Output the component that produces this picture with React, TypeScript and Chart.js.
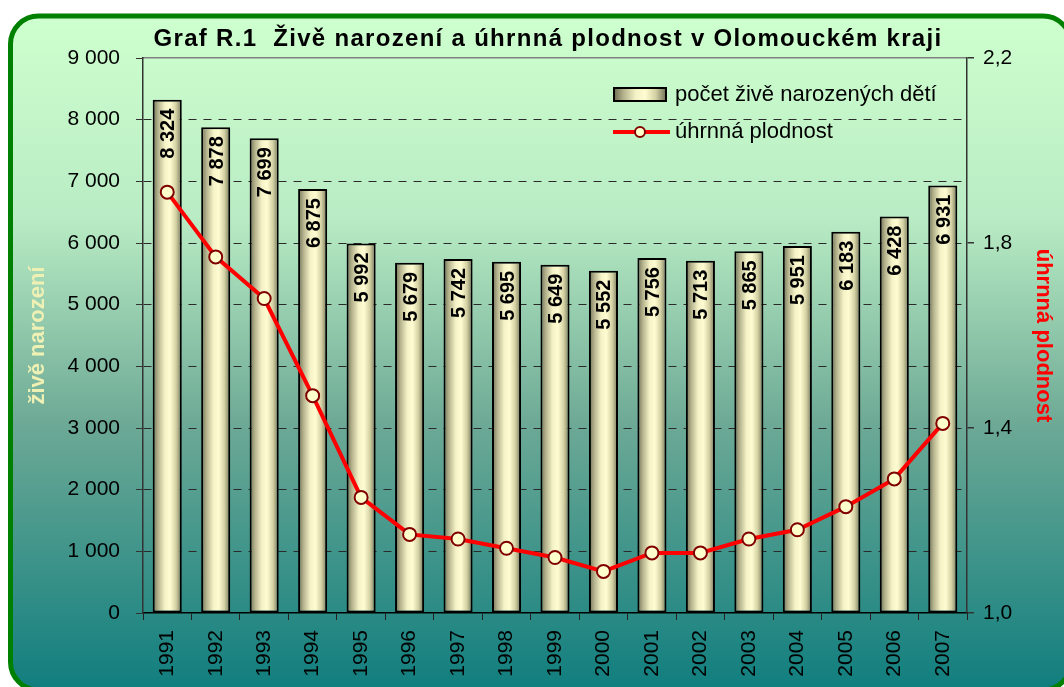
import React, { useEffect, useRef } from 'react';
import { Chart, registerables } from 'chart.js';

Chart.register(...registerables);

const years = ['1991', '1992', '1993', '1994', '1995', '1996', '1997', '1998', '1999', '2000', '2001', '2002', '2003', '2004', '2005', '2006', '2007'];
const births = [8324, 7878, 7699, 6875, 5992, 5679, 5742, 5695, 5649, 5552, 5756, 5713, 5865, 5951, 6183, 6428, 6931];
const fertility = [1.91, 1.77, 1.68, 1.47, 1.25, 1.17, 1.16, 1.14, 1.12, 1.09, 1.13, 1.13, 1.16, 1.18, 1.23, 1.29, 1.41];

const titleText = 'Graf R.1  Živě narození a úhrnná plodnost v Olomouckém kraji';
const birthsLabel = 'počet živě narozených dětí';
const fertilityLabel = 'úhrnná plodnost';
const leftAxisTitle = 'živě narození';
const rightAxisTitle = 'úhrnná plodnost';

const FONT = "'Liberation Sans', Arial, sans-serif";
const BAR_PCT = 0.6;

const fmtThousands = (n: number) => String(Math.round(n)).replace(/\B(?=(\d{3})+(?!\d))/g, ' ');
const fmtComma = (n: number) => n.toFixed(1).replace('.', ',');

function barGradient(ctx: CanvasRenderingContext2D, x0: number, x1: number) {
  const g = ctx.createLinearGradient(x0, 0, x1, 0);
  g.addColorStop(0, '#6c6c52');
  g.addColorStop(0.18, '#b4b28c');
  g.addColorStop(0.42, '#f4f2c6');
  g.addColorStop(0.6, '#fffcd2');
  g.addColorStop(0.8, '#d4d2a4');
  g.addColorStop(1, '#727258');
  return g;
}

const backgroundPlugin = {
  id: 'bgPanel',
  beforeDraw(chart: any) {
    const { ctx } = chart;
    const x = 10.5, y = 16, w = 1071 - 10.5, h = 690 - 16, r = 28;
    ctx.save();
    const g = ctx.createLinearGradient(0, y, 0, y + h);
    g.addColorStop(0, 'rgb(206,255,206)');
    g.addColorStop(0.3, 'rgb(185,236,196)');
    g.addColorStop(0.6, 'rgb(110,170,150)');
    g.addColorStop(1, 'rgb(16,126,126)');
    ctx.beginPath();
    ctx.moveTo(x + r, y);
    ctx.lineTo(x + w - r, y);
    ctx.arcTo(x + w, y, x + w, y + r, r);
    ctx.lineTo(x + w, y + h - r);
    ctx.arcTo(x + w, y + h, x + w - r, y + h, r);
    ctx.lineTo(x + r, y + h);
    ctx.arcTo(x, y + h, x, y + h - r, r);
    ctx.lineTo(x, y + r);
    ctx.arcTo(x, y, x + r, y, r);
    ctx.closePath();
    ctx.fillStyle = g;
    ctx.fill();
    ctx.lineWidth = 5;
    ctx.strokeStyle = '#008000';
    ctx.stroke();

    ctx.fillStyle = '#000';
    ctx.font = `bold 24px ${FONT}`;
    try { (ctx as any).letterSpacing = '1.3px'; } catch (e) {}
    ctx.textAlign = 'center';
    ctx.textBaseline = 'middle';
    ctx.fillText(titleText, 548, 39);
    ctx.restore();
  },
};

const barLabelPlugin = {
  id: 'barLabels',
  afterDatasetDraw(chart: any, args: any) {
    if (args.meta.type !== 'bar') return;
    const { ctx } = chart;
    ctx.save();
    ctx.fillStyle = '#000';
    ctx.font = `bold 20px ${FONT}`;
    ctx.textAlign = 'right';
    ctx.textBaseline = 'middle';
    args.meta.data.forEach((el: any, i: number) => {
      const { x, y } = el.getProps(['x', 'y'], true);
      ctx.save();
      ctx.translate(x + 1.5, y + 9);
      ctx.rotate(-Math.PI / 2);
      ctx.fillText(fmtThousands(births[i]), 0, 0);
      ctx.restore();
    });
    ctx.restore();
  },
};

const legendPlugin = {
  id: 'customLegend',
  afterDraw(chart: any) {
    const { ctx } = chart;
    ctx.save();
    const sx = 614, sy = 88, sw = 52, sh = 13;
    ctx.fillStyle = barGradient(ctx, sx, sx + sw);
    ctx.fillRect(sx, sy, sw, sh);
    ctx.lineWidth = 2;
    ctx.strokeStyle = '#000';
    ctx.strokeRect(sx, sy, sw, sh);
    ctx.beginPath();
    ctx.moveTo(613, 132);
    ctx.lineTo(670, 132);
    ctx.lineWidth = 4;
    ctx.strokeStyle = '#ff0000';
    ctx.stroke();
    ctx.beginPath();
    ctx.arc(640, 132, 5, 0, Math.PI * 2);
    ctx.fillStyle = '#ffffcc';
    ctx.fill();
    ctx.lineWidth = 2;
    ctx.strokeStyle = '#800000';
    ctx.stroke();
    ctx.fillStyle = '#000';
    ctx.font = `22px ${FONT}`;
    ctx.textAlign = 'left';
    ctx.textBaseline = 'middle';
    ctx.fillText(birthsLabel, 675, 95);
    ctx.fillText(fertilityLabel, 675, 132);
    ctx.restore();
  },
};

export default function App() {
  const ref = useRef<HTMLCanvasElement | null>(null);
  useEffect(() => {
    if (!ref.current) return;
    const chart = new Chart(ref.current, {
      type: 'bar',
      data: {
        labels: years,
        datasets: [
          {
            type: 'line',
            label: fertilityLabel,
            data: fertility,
            yAxisID: 'yR',
            order: 0,
            borderColor: '#ff0000',
            borderWidth: 4,
            pointRadius: 6.5,
            pointBackgroundColor: '#ffffcc',
            pointBorderColor: '#800000',
            pointBorderWidth: 2,
            tension: 0,
          } as any,
          {
            type: 'bar',
            label: birthsLabel,
            data: births,
            yAxisID: 'yL',
            order: 1,
            barPercentage: BAR_PCT,
            categoryPercentage: 1,
            borderColor: '#000',
            borderWidth: 2,
            borderSkipped: false,
            backgroundColor: (c: any) => {
              const chartRef = c.chart;
              const xs = chartRef.scales && chartRef.scales.x;
              if (!xs || c.dataIndex === undefined || !xs.width) return '#eeeabb';
              const cx = xs.getPixelForValue(c.dataIndex);
              const w = (xs.width / years.length) * BAR_PCT;
              if (!isFinite(cx)) return '#eeeabb';
              return barGradient(chartRef.ctx, cx - w / 2, cx + w / 2);
            },
          },
        ],
      },
      options: {
        responsive: false,
        animation: false,
        layout: { padding: { top: 58, left: 0, right: 0, bottom: 0 } },
        plugins: {
          legend: { display: false },
          title: { display: false },
          tooltip: { enabled: false },
        },
        scales: {
          x: {
            type: 'category',
            offset: true,
            grid: {
              offset: true,
              drawOnChartArea: false,
              drawTicks: true,
              tickLength: 7,
              tickColor: '#222',
              color: '#222',
            },
            border: { color: '#000', width: 1.5 },
            ticks: {
              minRotation: 90,
              maxRotation: 90,
              autoSkip: false,
              padding: 10,
              color: '#000',
              font: { family: FONT, size: 21 },
            },
            afterFit: (s: any) => { s.height = 74; },
          },
          yL: {
            type: 'linear',
            position: 'left',
            min: 0,
            max: 9000,
            ticks: {
              stepSize: 1000,
              padding: 16,
              color: '#000',
              font: { family: FONT, size: 21 },
              callback: (v: any) => fmtThousands(Number(v)),
            },
            grid: {
              color: (c: any) => (c.tick && (c.tick.value === 0 || c.tick.value === 9000) ? 'rgba(0,0,0,0)' : '#2a2a2a'),
              lineWidth: 1,
              tickColor: '#333',
              tickLength: 7,
            },
            border: { color: '#333', width: 1.5, dash: [8, 7] },
            title: {
              display: true,
              text: leftAxisTitle,
              color: '#eef0b4',
              font: { family: FONT, size: 22, weight: 'bold' },
              padding: { top: 25, bottom: 0 },
            },
            afterFit: (s: any) => { s.width = 143; },
          },
          yR: {
            type: 'linear',
            position: 'right',
            min: 1.0,
            max: 2.2,
            ticks: {
              stepSize: 0.4,
              padding: 9,
              color: '#000',
              font: { family: FONT, size: 21 },
              callback: (v: any) => fmtComma(Number(v)),
            },
            grid: {
              color: (c: any) => (c.tick && Math.abs(c.tick.value - 2.2) < 1e-6 ? '#808080' : 'rgba(0,0,0,0)'),
              lineWidth: 1.5,
              tickColor: '#333',
              tickLength: 7,
            },
            border: { color: '#333', width: 1.5 },
            title: {
              display: true,
              text: rightAxisTitle,
              color: '#ff0000',
              font: { family: FONT, size: 22, weight: 'bold' },
              padding: { top: 8, bottom: 0 },
            },
            afterFit: (s: any) => { s.width = 97; },
          },
        },
      } as any,
      plugins: [backgroundPlugin, barLabelPlugin, legendPlugin],
    });
    return () => chart.destroy();
  }, []);

  return (
    <div style={{ position: 'fixed', left: 0, top: 0, width: 1064, height: 687 }}>
      <canvas ref={ref} width={1064} height={687} style={{ display: 'block' }} />
    </div>
  );
}
